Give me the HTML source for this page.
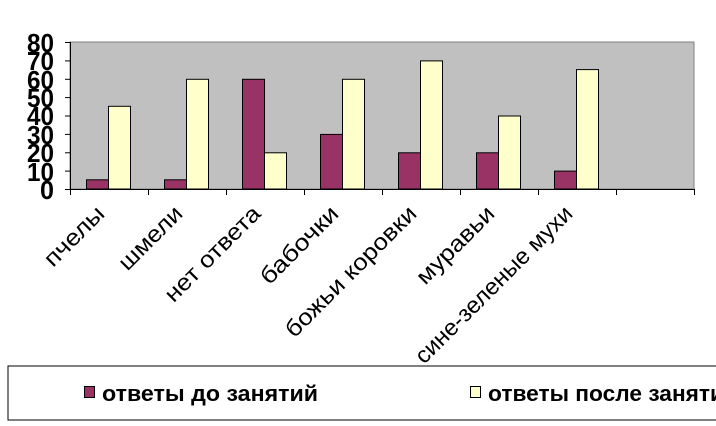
<!DOCTYPE html>
<html><head><meta charset="utf-8"><style>
html,body{margin:0;padding:0;background:#fff;width:716px;height:426px;overflow:hidden}
</style></head><body>
<svg width="716" height="426" xmlns="http://www.w3.org/2000/svg" font-family="'Liberation Sans',sans-serif">
<rect x="70" y="42" width="624" height="147" fill="#c0c0c0" stroke="#808080" stroke-width="1"/>
<g stroke="#000" stroke-width="1">
<line x1="70.5" y1="42" x2="70.5" y2="189"/>
<line x1="65" y1="189.5" x2="694" y2="189.5"/>
<line x1="65" y1="42.5" x2="70" y2="42.5"/>
<line x1="65" y1="60.9" x2="70" y2="60.9"/>
<line x1="65" y1="79.3" x2="70" y2="79.3"/>
<line x1="65" y1="97.6" x2="70" y2="97.6"/>
<line x1="65" y1="116" x2="70" y2="116"/>
<line x1="65" y1="134.4" x2="70" y2="134.4"/>
<line x1="65" y1="152.8" x2="70" y2="152.8"/>
<line x1="65" y1="171.1" x2="70" y2="171.1"/>
<line x1="70.5" y1="189" x2="70.5" y2="195"/>
<line x1="148.5" y1="189" x2="148.5" y2="195"/>
<line x1="226.5" y1="189" x2="226.5" y2="195"/>
<line x1="304.5" y1="189" x2="304.5" y2="195"/>
<line x1="382.5" y1="189" x2="382.5" y2="195"/>
<line x1="460.5" y1="189" x2="460.5" y2="195"/>
<line x1="538.5" y1="189" x2="538.5" y2="195"/>
<line x1="616.5" y1="189" x2="616.5" y2="195"/>
<line x1="694.5" y1="189" x2="694.5" y2="195"/>
</g>
<g font-weight="bold" font-size="26" text-anchor="end">
<text x="54" y="52" textLength="27" lengthAdjust="spacingAndGlyphs">80</text><text x="54" y="70" textLength="27" lengthAdjust="spacingAndGlyphs">70</text><text x="54" y="89" textLength="27" lengthAdjust="spacingAndGlyphs">60</text>
<text x="54" y="107" textLength="27" lengthAdjust="spacingAndGlyphs">50</text><text x="54" y="125" textLength="27" lengthAdjust="spacingAndGlyphs">40</text><text x="54" y="144" textLength="27" lengthAdjust="spacingAndGlyphs">30</text>
<text x="54" y="162" textLength="27" lengthAdjust="spacingAndGlyphs">20</text><text x="54" y="181" textLength="27" lengthAdjust="spacingAndGlyphs">10</text><text x="54" y="199" textLength="14" lengthAdjust="spacingAndGlyphs">0</text>
</g>
<g stroke="#000" stroke-width="1">
<rect x="86.5" y="179.8" width="22" height="9.2" fill="#993366"/>
<rect x="108.5" y="106.3" width="22" height="82.7" fill="#ffffcc"/>
<rect x="164.5" y="179.8" width="22" height="9.2" fill="#993366"/>
<rect x="186.5" y="79.3" width="22" height="109.7" fill="#ffffcc"/>
<rect x="242.5" y="79.3" width="22" height="109.7" fill="#993366"/>
<rect x="264.5" y="152.8" width="22" height="36.2" fill="#ffffcc"/>
<rect x="320.5" y="134.4" width="22" height="54.6" fill="#993366"/>
<rect x="342.5" y="79.3" width="22" height="109.7" fill="#ffffcc"/>
<rect x="398.5" y="152.8" width="22" height="36.2" fill="#993366"/>
<rect x="420.5" y="60.9" width="22" height="128.1" fill="#ffffcc"/>
<rect x="476.5" y="152.8" width="22" height="36.2" fill="#993366"/>
<rect x="498.5" y="116" width="22" height="73" fill="#ffffcc"/>
<rect x="554.5" y="171.1" width="22" height="17.9" fill="#993366"/>
<rect x="576.5" y="69.6" width="22" height="119.4" fill="#ffffcc"/>
</g>
<g font-size="23" text-anchor="end">
<text transform="translate(106,215) rotate(-45)" textLength="75" lengthAdjust="spacingAndGlyphs">пчелы</text>
<text transform="translate(184,215) rotate(-45)" textLength="80" lengthAdjust="spacingAndGlyphs">шмели</text>
<text transform="translate(262,215) rotate(-45)" textLength="125" lengthAdjust="spacingAndGlyphs">нет ответа</text>
<text transform="translate(340,215) rotate(-45)" textLength="100" lengthAdjust="spacingAndGlyphs">бабочки</text>
<text transform="translate(418,215) rotate(-45)" textLength="175" lengthAdjust="spacingAndGlyphs">божьи коровки</text>
<text transform="translate(496,215) rotate(-45)" textLength="100" lengthAdjust="spacingAndGlyphs">муравьи</text>
<text transform="translate(574,215) rotate(-45)" textLength="212" lengthAdjust="spacingAndGlyphs">сине-зеленые мухи</text>
</g>
<rect x="8" y="366" width="720" height="54" fill="none" stroke="#000" stroke-width="1"/>
<rect x="84.5" y="386.5" width="10" height="11" fill="#993366" stroke="#000"/>
<text x="102" y="401" font-size="22" font-weight="bold" textLength="216" lengthAdjust="spacingAndGlyphs">ответы  до занятий</text>
<rect x="470.5" y="386.5" width="10" height="11" fill="#ffffcc" stroke="#000"/>
<text x="488" y="401" font-size="22" font-weight="bold" textLength="250" lengthAdjust="spacingAndGlyphs">ответы после занятий</text>
</svg>
</body></html>
